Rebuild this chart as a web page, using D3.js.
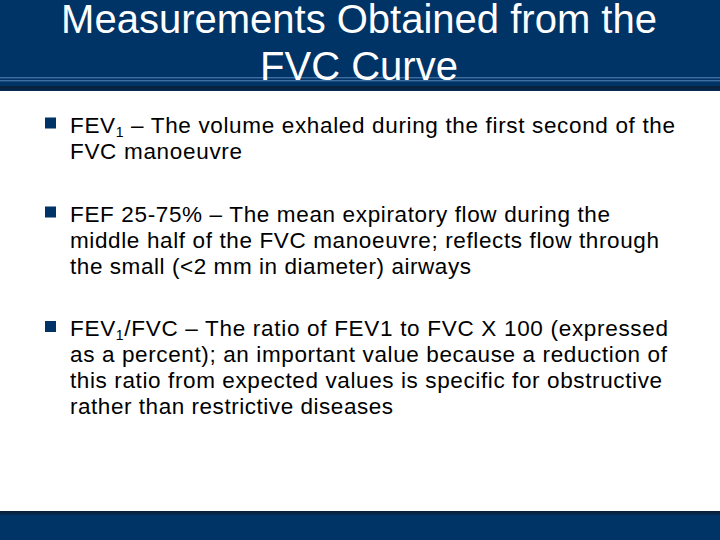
<!DOCTYPE html>
<html>
<head>
<meta charset="utf-8">
<script src="https://cdnjs.cloudflare.com/ajax/libs/d3/7.8.5/d3.min.js"></script>
<style>
  html, body { margin: 0; padding: 0; background: #ffffff; }
  svg { display: block; }
</style>
</head>
<body>
<div id="slide"></div>
<script>
// slide text, "_1" marks a subscript 1
var titleLines = ["Measurements Obtained from the", "FVC Curve"];

var bullet1 = [
    "FEV_1 – The volume exhaled during the first second of the",
    "FVC manoeuvre"
];
var bullet2 = [
    "FEF 25-75% – The mean expiratory flow during the",
    "middle half of the FVC manoeuvre; reflects flow through",
    "the small (<2 mm in diameter) airways"
];
var bullet3 = [
    "FEV_1/FVC – The ratio of FEV1 to FVC X 100 (expressed",
    "as a percent); an important value because a reduction of",
    "this ratio from expected values is specific for obstructive",
    "rather than restrictive diseases"
];
var bullets = [bullet1, bullet2, bullet3];

// right end of every line
var lineEnds = [
    [675, 242],
    [610, 659, 471],
    [668, 667, 662, 393]
];
// baseline of first line of each bullet
var bulletTops = [132.5, 221.5, 336];

var width = 720,
    height = 540,
    textLeft = 70,
    lineStep = 26,
    navy = "#003366";

var svg = d3.select("#slide")
    .append("svg")
    .attr("width", width)
    .attr("height", height)
    .style("font-family", "'Liberation Sans', Arial, Helvetica, sans-serif");

var defs = svg.append("defs");
var shade = defs.append("linearGradient")
    .attr("id", "shade")
    .attr("x1", 0).attr("y1", 0).attr("x2", 0).attr("y2", 1);
shade.append("stop").attr("offset", "0%").attr("stop-color", "#0a1f36");
shade.append("stop").attr("offset", "100%").attr("stop-color", "#062a52");

// header band
svg.append("rect")
    .attr("x", 0).attr("y", 0)
    .attr("width", width).attr("height", 87)
    .attr("fill", navy);
svg.append("rect")
    .attr("x", 0).attr("y", 86)
    .attr("width", width).attr("height", 5)
    .attr("fill", "url(#shade)");

svg.selectAll(".rule")
    .data([77.8, 80.8])
    .enter()
    .append("line")
    .attr("class", "rule")
    .attr("x1", 0).attr("x2", width)
    .attr("y1", function(d) { return d; })
    .attr("y2", function(d) { return d; })
    .attr("stroke", "#5a88b8")
    .attr("stroke-width", 1);

svg.selectAll(".title")
    .data(titleLines)
    .enter()
    .append("text")
    .attr("class", "title")
    .attr("x", 359)
    .attr("y", function(d, i) { return 33 + i * 47.3; })
    .attr("text-anchor", "middle")
    .attr("fill", "#ffffff")
    .style("font-size", "40px")
    .text(function(d) { return d; });

// footer band
svg.append("rect")
    .attr("x", 0).attr("y", 511)
    .attr("width", width).attr("height", 29)
    .attr("fill", navy);
svg.append("rect")
    .attr("x", 0).attr("y", 511)
    .attr("width", width).attr("height", 4)
    .attr("fill", "url(#shade)");

// bullets
var group = svg.selectAll(".bullet")
    .data(bullets)
    .enter()
    .append("g")
    .attr("class", "bullet");

group.append("rect")
    .attr("x", 45)
    .attr("y", function(d, i) { return bulletTops[i] - 15; })
    .attr("width", 11)
    .attr("height", 11)
    .attr("fill", navy);

group.each(function(lines, bi) {
    var g = d3.select(this);
    lines.forEach(function(line, li) {
        var t = g.append("text")
            .attr("x", textLeft)
            .attr("y", bulletTops[bi] + li * lineStep)
            .attr("fill", "#000000")
            .style("font-size", "22.5px")
            .attr("textLength", lineEnds[bi][li] - textLeft)
            .attr("lengthAdjust", "spacing");

        var parts = line.split("_1");
        parts.forEach(function(p, pi) {
            if (pi > 0) {
                t.append("tspan")
                    .attr("dy", 4)
                    .style("font-size", "14px")
                    .text("1");
                t.append("tspan")
                    .attr("dy", -4)
                    .text(p);
            } else {
                t.append("tspan").text(p);
            }
        });
    });
});
</script>
</body>
</html>
